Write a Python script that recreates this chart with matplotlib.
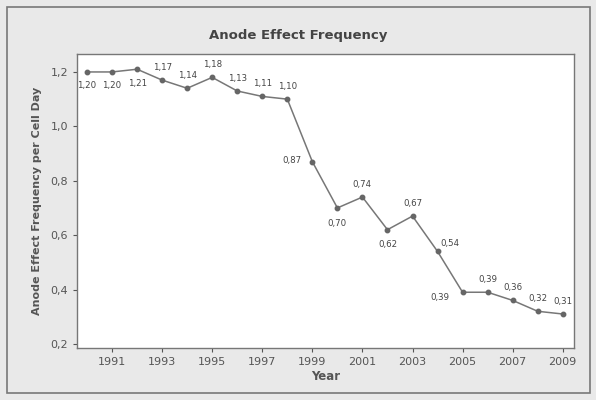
import matplotlib
matplotlib.use("Agg")
import matplotlib.pyplot as plt
from matplotlib.patches import Rectangle

years = [1990, 1991, 1992, 1993, 1994, 1995, 1996, 1997, 1998, 1999,
         2000, 2001, 2002, 2003, 2004, 2005, 2006, 2007, 2008, 2009]
freq = [1.20, 1.20, 1.21, 1.17, 1.14, 1.18, 1.13, 1.11, 1.10, 0.87,
        0.70, 0.74, 0.62, 0.67, 0.54, 0.39, 0.39, 0.36, 0.32, 0.31]
xticks = [1991, 1993, 1995, 1997, 1999, 2001, 2003, 2005, 2007, 2009]
yticks = [0.2, 0.4, 0.6, 0.8, 1.0, 1.2]

# label offsets in points (dx, dy) for each value label
offs = [(0, -10), (0, -10), (0, -10), (0, 9), (0, 9), (0, 9), (0, 9), (0, 9), (0, 9), (-15, 1),
        (0, -11), (0, 9), (0, -11), (0, 9), (9, 6), (-16, -4), (0, 9), (0, 9), (0, 9), (0, 9)]

fig = plt.figure(figsize=(5.96, 4.0), dpi=100)
fig.patch.set_facecolor("#e9e9e9")
fig.add_artist(Rectangle((7/596, 7/400), 583/596, 386/400, transform=fig.transFigure,
                         fill=False, edgecolor="#777777", lw=1.2))

ax = fig.add_axes([77/596, 52/400, 497/596, 294/400])
ax.set_facecolor("white")
ax.plot(years, freq, color="#777777", lw=1.1, marker="o", ms=3.2,
        mfc="#666666", mec="#666666")
for x, y, (dx, dy) in zip(years, freq, offs):
    ax.annotate(("%.2f" % y).replace(".", ","), (x, y), xytext=(dx, dy),
                textcoords="offset points", ha="center", va="center",
                fontsize=6.2, color="#444444")

ax.set_xlim(1989.6, 2009.45)
ax.set_ylim(0.185, 1.266)
ax.set_xticks(xticks)
ax.set_xticklabels([str(t) for t in xticks])
ax.set_yticks(yticks)
ax.set_yticklabels([("%.1f" % t).replace(".", ",") for t in yticks])
ax.tick_params(labelsize=8, colors="#555555", length=3)
for s in ax.spines.values():
    s.set_color("#777777")
    s.set_linewidth(1.0)

ax.set_xlabel("Year", fontsize=8.5, fontweight="bold", color="#555555", labelpad=2)
ax.set_ylabel("Anode Effect Frequency per Cell Day", fontsize=8, fontweight="bold",
              color="#555555", labelpad=6)
fig.text(0.5, 1 - 35/400, "Anode Effect Frequency", ha="center", va="center",
         fontsize=9.5, fontweight="bold", color="#444444")

fig.savefig("out.png", dpi=100, facecolor=fig.get_facecolor())
